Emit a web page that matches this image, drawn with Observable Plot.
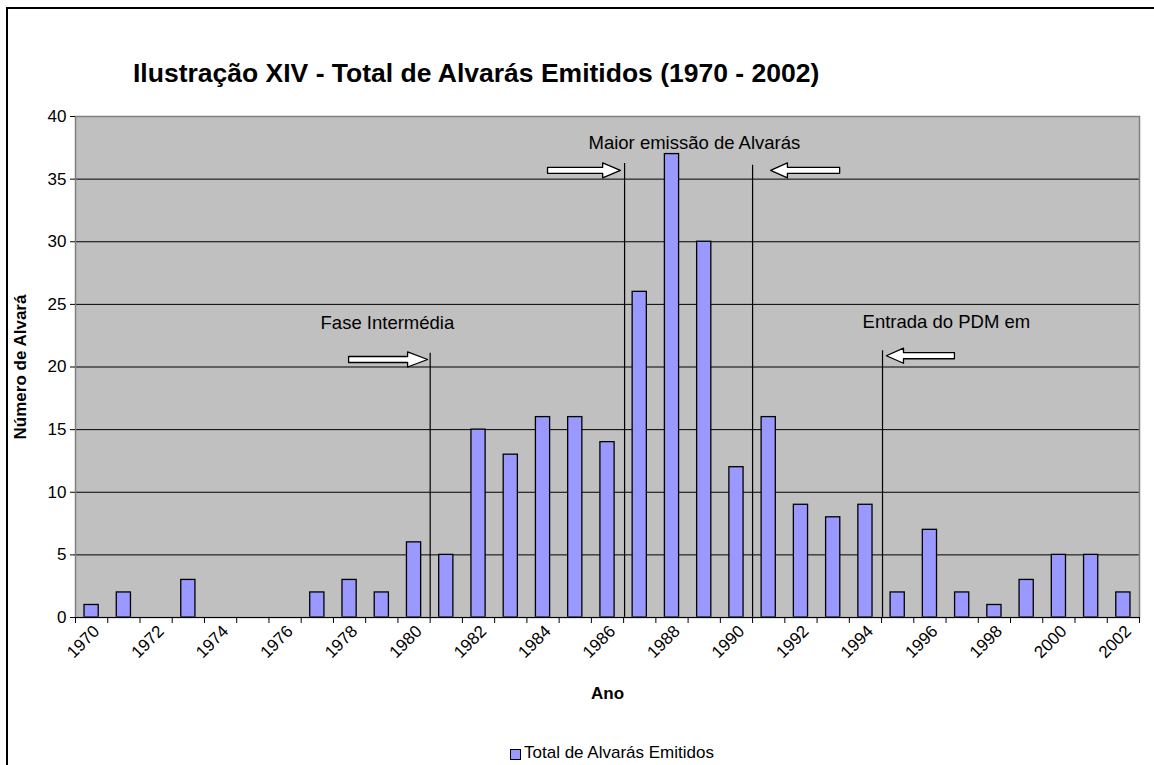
<!DOCTYPE html>
<html><head><meta charset="utf-8">
<script src="https://cdn.jsdelivr.net/npm/d3@7"></script>
<script src="https://cdn.jsdelivr.net/npm/@observablehq/plot@0.6"></script>
<style>
body{margin:0;background:#fff;font-family:"Liberation Sans",Arial,sans-serif;}
#page{position:relative;width:1154px;height:765px;overflow:hidden;background:#fff;}
#border{position:absolute;left:6px;top:7px;width:1250px;height:850px;border:2px solid #000;box-sizing:border-box;}
#title{position:absolute;left:133px;top:58px;font-weight:bold;font-size:26.5px;line-height:30px;white-space:nowrap;color:#000;}
#chart{position:absolute;left:0;top:100px;}
#legend{position:absolute;top:743px;left:510px;font-size:17px;line-height:19px;white-space:nowrap;display:flex;align-items:center;}
#legend .sw{display:inline-block;width:9px;height:9px;background:#9999ff;border:1px solid #000;margin-right:3px;margin-top:3px;}
</style>
</head><body>
<div id="page">
  <div id="border"></div>
  <div id="title">Ilustração XIV - Total de Alvarás Emitidos (1970 - 2002)</div>
  <div id="chart"></div>
  <div id="legend"><span class="sw"></span><span>Total de Alvarás Emitidos</span></div>
</div>
<script>
// Categories and values
const years = [1970,1971,1972,1973,1974,1975,1976,1977,1978,1979,1980,1981,1982,1983,1984,1985,1986,1987,1988,1989,1990,1991,1992,1993,1994,1995,1996,1997,1998,1999,2000,2001,2002];
const values = [1,2,0,3,0,0,0,2,3,2,6,5,15,13,16,16,14,26,37,30,12,16,9,8,9,2,7,2,1,3,5,5,2];
const labelYears = [1970,1972,1974,1976,1978,1980,1982,1984,1986,1988,1990,1992,1994,1996,1998,2000,2002];
const yTicks = [0,5,10,15,20,25,30,35,40];

// Annotations (data coordinates)
const noteTexts = ["Fase Intermédia","Maior emissão de Alvarás","Entrada do PDM em"];
const noteX = [1977.1, 1985.41, 1993.91];
const noteY = [23.5, 37.9, 23.55];
const lineX = [1980.5, 1986.53, 1990.5, 1994.53];
const lineTop = [21.1, 36.25, 36.1, 21.3];
const arrowStart = [1977.97, 1984.14, 1993.20, 1996.76];
const arrowHeadBack = [1979.80, 1985.85, 1991.58, 1995.18];
const arrowTip = [1980.42, 1986.40, 1991.06, 1994.65];
const arrowY = [20.6, 35.7, 35.7, 20.9];
const shaftHalf = 0.24, headHalf = 0.6;

const data = years.map((y,i)=>({year:y, value:values[i]}));
const lines = lineX.map((x,i)=>({x, top:lineTop[i]}));
const notes = noteTexts.map((t,i)=>({text:t, x:noteX[i], y:noteY[i]}));
const arrowPts = [];
arrowStart.forEach((s,i)=>{
  const h = arrowHeadBack[i], t = arrowTip[i], y = arrowY[i];
  const pts = [[s,y-shaftHalf],[h,y-shaftHalf],[h,y-headHalf],[t,y],[h,y+headHalf],[h,y+shaftHalf],[s,y+shaftHalf],[s,y-shaftHalf]];
  pts.forEach(p=>arrowPts.push({id:i, x:p[0], y:p[1]}));
});
const boundaries = years.map(y=>y-0.5).concat([years[years.length-1]+0.5]);

const chart = Plot.plot({
  width: 1154,
  height: 620,
  marginLeft: 75,
  marginRight: 15,
  marginTop: 16,
  marginBottom: 103,
  style: {fontFamily: '"Liberation Sans", Arial, sans-serif', fontSize: "17px", background: "transparent", color: "#000"},
  x: {type: "linear", domain: [years[0]-0.5, years[years.length-1]+0.5]},
  y: {domain: [0, 40]},
  marks: [
    Plot.frame({fill: "#c0c0c0", stroke: "none"}),
    Plot.gridY(yTicks.filter(v=>v>0 && v<40), {stroke: "#000", strokeOpacity: 1, strokeWidth: 1}),
    Plot.rectY(data.filter(d=>d.value>0), {x1: d=>d.year-0.22, x2: d=>d.year+0.22, y1: 0, y2: "value", fill: "#9999ff", stroke: "#000", strokeWidth: 1.3}),
    Plot.ruleX(lines, {x: "x", y1: 0, y2: "top", stroke: "#000", strokeWidth: 1.2}),
    Plot.line(arrowPts, {x: "x", y: "y", z: "id", fill: "#fff", stroke: "#000", strokeWidth: 1.3, curve: "linear"}),
    Plot.text(notes, {x: "x", y: "y", text: "text", textAnchor: "start", fontSize: 18.5, fill: "#000"}),
    Plot.frame({stroke: "#808080", strokeWidth: 1.5}),
    Plot.ruleY([0], {stroke: "#000", strokeWidth: 1}),
    Plot.axisY({ticks: yTicks, tickSize: 5, tickPadding: 4, label: null, fontSize: 17, stroke: "#000"}),
    Plot.axisX({ticks: boundaries, tickSize: 6, tickFormat: () => "", label: null, stroke: "#000"}),
    Plot.axisX({ticks: labelYears, tickSize: 0, tickRotate: -45, tickPadding: 8, tickFormat: d => String(d), label: null, fontSize: 17, dx: 5, dy: 3}),
    Plot.text(["Número de Alvará"], {text: d=>d, frameAnchor: "left", textAnchor: "middle", dx: -55, rotate: -90, fontWeight: "bold", fontSize: 17}),
    Plot.text(["Ano"], {text: d=>d, frameAnchor: "bottom", dy: 81, fontWeight: "bold", fontSize: 17})
  ]
});
document.getElementById("chart").appendChild(chart);
</script>
</body></html>
